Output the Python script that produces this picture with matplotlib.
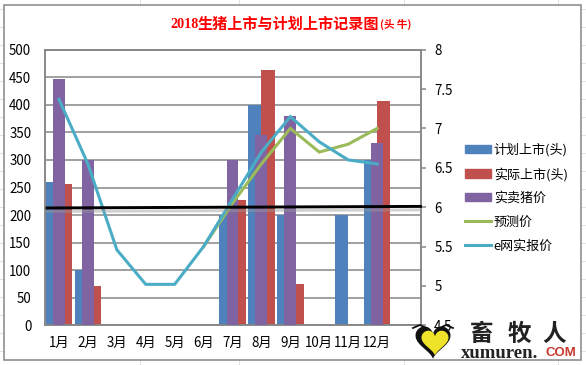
import numpy as np
import matplotlib
matplotlib.use('Agg')
import matplotlib.pyplot as plt
from matplotlib.patches import Rectangle, Polygon, Patch
from matplotlib.lines import Line2D
import matplotlib.patheffects as pe

W, H = 586, 365
CJK = ['Noto Sans CJK SC', 'DejaVu Sans']
plt.rcParams['font.family'] = CJK

months = ['1月','2月','3月','4月','5月','6月','7月','8月','9月','10月','11月','12月','']
plan   = [260,100,0,0,0,0,200,400,200,0,200,300,0]
actual = [257,71,0,3,0,0,228,463,75,0,0,407,0]
real_price = [7.63,6.6,0,0,0,0,6.6,6.92,7.16,0,0,6.81,0]
forecast_x = [5,6,7,8,9,10,11]
forecast   = [5.5,6.05,6.55,7.0,6.7,6.8,7.0]
enet_x = [0,1,2,3,4,5,6,7,8,9,10,11]
enet   = [7.37,6.55,5.46,5.02,5.02,5.5,6.1,6.7,7.15,6.83,6.6,6.55]
ref_x = [-0.41,12.5]
ref_y = [5.99,6.01]

BLUE,RED,PURPLE,GREEN,CYAN = '#4F81BD','#C0504D','#8064A2','#9BBB59','#4BACC6'
GRAY = '#868686'

fig = plt.figure(figsize=(W/100,H/100),dpi=100,facecolor='white')

def fx(v): return v/W
def fy(v): return 1-v/H

# page layer in pixel coordinates: cell lines and chart frame
bg = fig.add_axes([0,0,1,1],zorder=-2)
bg.set_xlim(0,W); bg.set_ylim(H,0); bg.axis('off')
for yy in np.arange(9,365,18):
    bg.plot([0,W],[yy,yy],color='#e2e2e2',lw=0.7)
for xx in [140,239,404,558]:
    bg.plot([xx,xx],[0,H],color='#e2e2e2',lw=0.7)
bg.add_patch(Rectangle((3.5,4.5),577.5,355.5,fc='white',ec=GRAY,lw=1.1,zorder=3))

ax = fig.add_axes([fx(44.5),fy(325.3),fx(376),(325.3-49.7)/H],zorder=1)
ax.patch.set_visible(False)
x = np.arange(len(months))
bw = 0.46
ax.bar(x-bw/2,plan,bw,color=BLUE,zorder=2)
ax.bar(x+bw/2,actual,bw,color=RED,zorder=2)
ax.set_xlim(-0.5,12.5)
ax.set_ylim(0,500)
ax.set_yticks(np.arange(0,501,50))
ax.set_xticks(x)
ax.set_xticklabels(months,fontsize=9.6,color='black')
ax.tick_params(axis='both',length=0,labelsize=9.6)
ax.tick_params(axis='x',pad=8)
ax.tick_params(axis='y',pad=9.5)
ax.grid(axis='y',color=GRAY,lw=1.1,zorder=0)
ax.set_axisbelow(True)
for s in ax.spines.values():
    s.set_color(GRAY); s.set_linewidth(1.1)

ax2 = ax.twinx()
ax2.patch.set_visible(False)
ax2.set_ylim(4.5,8)
ax2.set_yticks(np.arange(4.5,8.01,0.5))
ax2.set_yticklabels(['4.5','5','5.5','6','6.5','7','7.5','8'],fontsize=9.6)
ax2.tick_params(axis='y',length=3.6,width=1.1,color=GRAY,pad=6.3)
for s in ax2.spines.values():
    s.set_color(GRAY); s.set_linewidth(1.1)
pb = [v if v>0 else np.nan for v in real_price]
ax2.bar(x,np.array(pb)-4.5,0.41,bottom=4.5,color=PURPLE,zorder=3)
ax2.plot(forecast_x,forecast,color=GREEN,lw=2.2,zorder=4,solid_joinstyle='miter')
ax2.plot(enet_x,enet,color=CYAN,lw=2.2,zorder=5,solid_joinstyle='miter')
ax2.plot(ref_x,ref_y,color='black',lw=2.1,zorder=6,clip_on=False,
         path_effects=[pe.SimpleLineShadow(offset=(0,-2.5),shadow_color='#999999',alpha=0.45),pe.Normal()])

handles = [Patch(color=BLUE),Patch(color=RED),Patch(color=PURPLE),
           Line2D([],[],color=GREEN,lw=2.2),Line2D([],[],color=CYAN,lw=2.2)]
labels = ['计划上市(头)','实际上市(头)','实卖猪价','预测价','e网实报价']
fig.legend(handles,labels,loc='upper left',bbox_to_anchor=(fx(461),fy(139)),frameon=False,
           fontsize=9.4,handlelength=2.0,handleheight=0.6,handletextpad=0.2,
           labelspacing=0.82,borderpad=0.3,borderaxespad=0)

# title
ty = fy(24)
fig.text(fx(170),ty,'2018',family=['Liberation Serif'],fontsize=10.2,fontweight='bold',color='#ff0000',va='center')
fig.text(fx(198),ty,'生猪上市与计划上市记录图',family=CJK,fontsize=10.9,fontweight='bold',color='#ff0000',va='center')
fig.text(fx(380),ty,'(头 牛)',family=CJK,fontsize=7.6,fontweight='bold',color='#ff0000',va='center')

# logo layer in pixel coordinates
lg = fig.add_axes([0,0,1,1],zorder=5)
lg.set_xlim(0,W); lg.set_ylim(H,0); lg.axis('off'); lg.patch.set_visible(False)
lg.add_patch(Rectangle((416,331),164,28,fc='white',ec='none',zorder=1))
t = np.linspace(0,2*np.pi,80)
hx = 16*np.sin(t)**3/16
hy = -(13*np.cos(t)-5*np.cos(2*t)-2*np.cos(3*t)-np.cos(4*t))/15
lg.add_patch(Polygon(np.c_[433+17.5*hx,340+17*hy],fc='#111111',ec='none',zorder=2))
lg.add_patch(Polygon(np.c_[435+13.5*hx,341+13*hy],fc='#EFE32A',ec='none',zorder=3))
lg.plot([413,420,428],[328,325,329],color='#111111',lw=1.3,zorder=4)
lg.plot([438,446,453],[329,325,328],color='#111111',lw=1.3,zorder=4)
for cx,ch in [(470,'畜'),(508,'牧'),(542,'人')]:
    lg.text(cx,334,ch,family=CJK,fontsize=17,fontweight='bold',color='#222222',va='center',zorder=5)
lg.text(461,353,'xumuren.',family=['Liberation Serif'],fontsize=13.5,fontweight='bold',color='#222222',va='center',zorder=5)
lg.text(546,353,'COM',family=['Liberation Sans'],fontsize=9.5,fontweight='bold',color='#C8382E',va='center',zorder=5)

fig.savefig('out.png',dpi=100)
